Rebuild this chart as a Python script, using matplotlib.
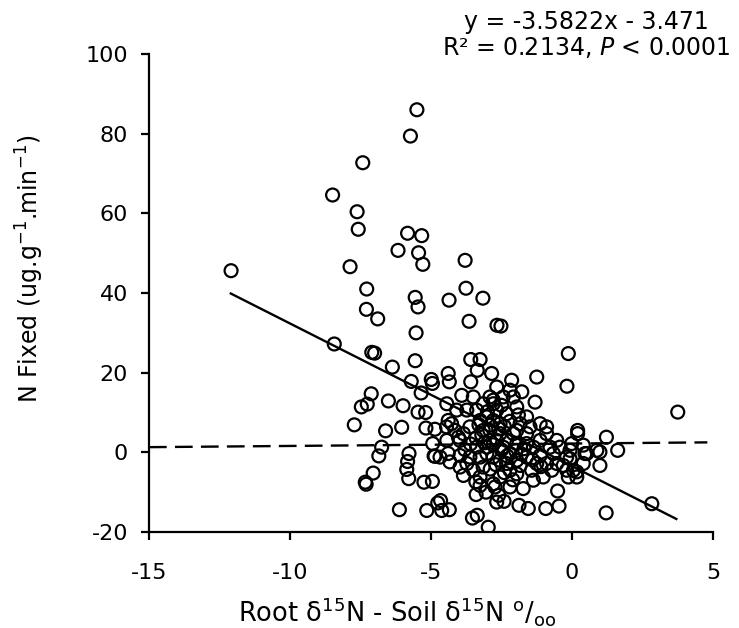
import matplotlib
matplotlib.use("Agg")
import matplotlib.pyplot as plt
import numpy as np

plt.rcParams['font.family'] = ['DejaVu Sans']
plt.rcParams['axes.unicode_minus'] = False
plt.rcParams['mathtext.fontset'] = 'dejavusans'

# Root d15N - Soil d15N (x) and N fixed (y)
root_minus_soil = [
    -5.50, -5.73, -7.42, -8.49, -7.62, -7.58, -5.83, -5.33, -6.17, -5.44,
    -5.29, -7.87, -12.09, -7.28, -5.56, -5.46, -7.29, -6.89, -5.53, -8.43,
    -7.10, -7.00, -5.56, -6.37, -4.99, -4.95, -5.70, -5.35, -7.12, -7.26,
    -7.47, -6.51, -5.99, -5.46, -5.19, -7.72, -6.61, -6.04, -5.18, -4.86,
    -4.94, -6.75, -6.85, -4.89, -5.78, -5.83, -5.86, -5.79, -7.05, -7.33,
    -7.30, -5.25, -4.95, -6.12, -5.15, -4.76, -3.79, -3.76, -3.16, -4.36,
    -3.65, -2.66, -2.52, -0.13, -0.18, -1.25, 3.75, 2.83, 1.21, 1.62,
    1.22, 0.99, 0.20, 0.20, -2.97, -3.53, -3.36, -4.66, -4.35, -4.62,
    -2.67, -2.41, -1.88, -1.55, -0.93, -0.46, -0.51, -3.26, -3.05, -2.73,
    -2.20, -1.73, -3.85, -4.86, -4.39, -4.33, -4.03, -4.39, -4.45, -4.15,
    -4.39, -4.35, -3.59, -3.26, -3.36, -2.85, -3.59, -2.67, -2.14, -1.78,
    -1.31, -2.08, -3.91, -3.50, -3.38, -3.02, -2.79, -2.67, -2.55, -3.15,
    -2.91, -3.38, -3.62, -3.73, -3.15, -2.20, -1.96, -1.43, -2.20, -2.44,
    -2.08, -1.84, -1.49, -0.90, -1.13, -0.78, -0.43, -0.19, 0.52, 0.88,
    0.05, -0.13, -0.31, -0.54, -1.02, -1.37, -2.55, -2.79, -3.41, -3.97,
    -4.68, -3.85, -3.62, -4.09, -4.44, -4.27, -3.26, -2.32, -1.96, -1.61,
    -1.13, -0.90, -0.54, -0.01, 0.40, -0.07, -0.66, -1.13, -1.61, -1.96,
    -2.55, -2.79, -3.02, -3.26, -3.02, -2.67, -2.32, -1.96, -1.61, -1.37,
    -1.61, -1.96, -2.55, -2.91, -2.79, -2.44, -2.20, -2.91, -3.15, -2.79,
    -3.73, -3.50, -3.26, -2.32, -1.84, -1.25, -0.90, -0.72, 0.17, -3.97,
    -3.97, -4.44, 0.99, 0.46, 0.40, -0.07, -0.19, 0.17, -2.90, -2.60,
    -2.40, -2.20, -3.10, -2.80, -2.50, -2.30, -2.00, -1.80, -3.40, -3.20,
    -2.70, -2.90, -2.40, -3.00, -2.50, -1.90, -3.30, -1.70, -1.40, -1.10,
    -2.10, -3.60, -3.80, -2.60, -3.40,
]
n_fixed = [
    86.0, 79.4, 72.7, 64.6, 60.4, 56.0, 55.0, 54.4, 50.7, 50.1,
    47.2, 46.6, 45.6, 41.0, 38.9, 36.5, 35.9, 33.5, 30.0, 27.2,
    25.1, 24.9, 23.0, 21.4, 18.3, 17.3, 17.8, 14.9, 14.7, 12.1,
    11.4, 12.9, 11.7, 10.1, 10.0, 6.9, 5.4, 6.3, 6.1, 5.8,
    2.2, 1.3, -0.9, -0.9, -0.3, -2.3, -4.3, -6.6, -5.2, -7.5,
    -8.0, -7.5, -7.3, -14.4, -14.6, -12.7, 48.2, 41.2, 38.7, 38.2,
    32.9, 31.9, 31.7, 24.8, 16.6, 18.9, 10.1, -12.9, -15.2, 0.5,
    3.8, -3.3, 5.5, 4.7, -18.8, -16.5, -15.8, -12.1, -14.4, -14.6,
    -12.5, -12.3, -13.3, -14.1, -14.1, -13.5, -9.7, -8.3, -10.0, -8.7,
    -8.7, -9.1, -5.8, -1.0, -0.3, -2.4, 3.8, 8.0, 6.4, 5.5,
    19.8, 17.7, 23.3, 23.3, 20.6, 19.8, 17.7, 16.4, 18.1, 15.2,
    12.6, 13.9, 14.3, 13.9, 10.6, 8.9, 13.1, 10.6, 7.2, 5.5,
    3.0, 1.3, -1.2, -2.8, -3.7, -4.5, -5.4, -4.5, -0.3, 1.3,
    4.7, 7.2, 6.4, 6.4, 3.0, 1.3, 1.3, -1.2, -0.3, 0.5,
    -4.5, -6.2, -3.3, -2.8, -6.2, -7.0, -6.2, -7.9, -7.4, -3.7,
    -1.2, 4.7, 6.4, 10.6, 12.2, 7.2, 8.0, 9.7, 11.4, 8.9,
    7.2, 4.7, 3.0, 2.2, 1.8, 0.5, -0.3, -0.8, -1.2, -2.0,
    -2.0, -1.2, -0.3, -1.2, 1.3, 3.0, 3.0, 2.2, 2.2, 1.3,
    4.7, 5.5, 4.7, 5.5, 8.0, 13.9, 15.6, 13.9, 12.2, 12.2,
    10.6, -4.5, -6.2, -2.8, -3.3, -2.8, -2.8, -4.5, -6.2, -0.8,
    3.0, 3.0, 0.1, -0.3, -2.8, -1.6, -4.5, -4.9, 6.8, 5.9,
    6.5, 7.8, 2.4, 1.9, 0.6, -0.9, 0.4, -0.4, 3.6, 4.4,
    -3.1, -4.2, -5.1, 10.2, 11.8, 9.4, 6.9, 0.9, -1.9, -3.6,
    -6.9, 2.1, 0.7, -10.8, -10.6,
]

# fitted regression (from the equation on the chart)
slope = -3.5822
intercept = -3.471
fit_x = np.array([-12.1, 3.7])
fit_y = slope * fit_x + intercept

# dashed reference line
ref_x = [-15.0, 4.8]
ref_y = [1.3, 2.5]

fig = plt.figure(figsize=(7.39, 6.28), dpi=100)
ax = fig.add_axes([149/739, 96/628, 564/739, 478/628])

ax.scatter(root_minus_soil, n_fixed, s=9.3**2, facecolors='none', edgecolors='black',
           linewidths=1.6, zorder=3)
ax.plot(fit_x, fit_y, color='black', lw=1.7, zorder=2)
ax.plot(ref_x, ref_y, color='black', lw=1.7, dashes=(7.5, 3.5), zorder=2)

ax.set_xlim(-15, 5)
ax.set_ylim(-20, 100)
ax.set_xticks([-15, -10, -5, 0, 5])
ax.set_yticks([-20, 0, 20, 40, 60, 80, 100])
ax.spines['top'].set_visible(False)
ax.spines['right'].set_visible(False)
ax.spines['left'].set_linewidth(1.6)
ax.spines['bottom'].set_linewidth(1.6)
ax.tick_params(axis='both', direction='out', length=6, width=1.6, labelsize=16)
ax.tick_params(axis='x', pad=16)
ax.tick_params(axis='y', pad=9)

# axis labels placed in figure coordinates
fig.text(397/739, 1 - 611/628, 'Root δ$^{\\mathregular{15}}$N - Soil δ$^{\\mathregular{15}}$N $^{\\mathregular{o}}$/$_{\\mathregular{oo}}$',
         ha='center', va='center', fontsize=18.5)
fig.text(30/739, 1 - 269/628, 'N Fixed (ug.g$^{\\mathregular{-1}}$.min$^{\\mathregular{-1}}$)',
         ha='center', va='center', rotation=90, fontsize=17)

# equation
fig.text(586/739, 1 - 22/628, 'y = -3.5822x - 3.471', ha='center', va='center', fontsize=17)
fig.text(586/739, 1 - 47/628, 'R² = 0.2134, $\\mathit{P}$ < 0.0001', ha='center', va='center', fontsize=17)

fig.savefig('out.png', dpi=100)
